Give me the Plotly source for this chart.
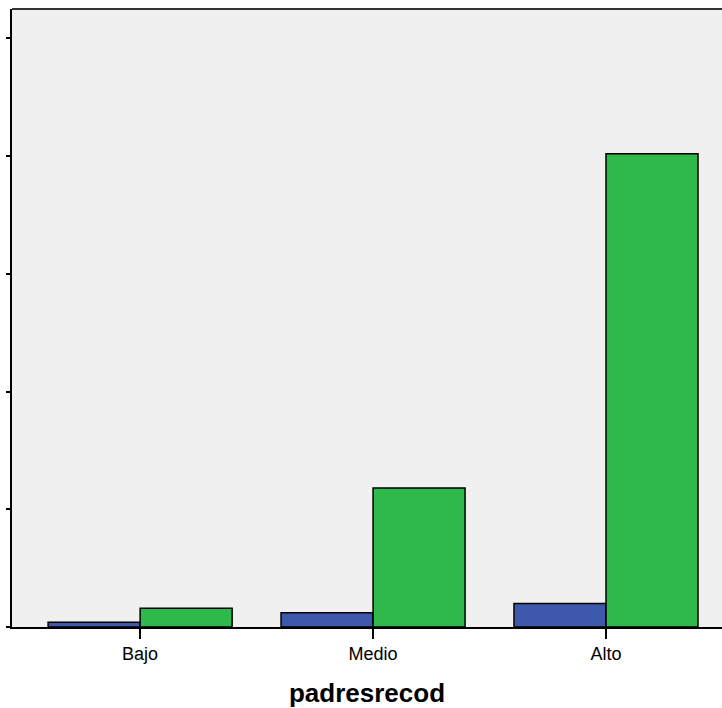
import plotly.graph_objects as go

categories = ["Bajo", "Medio", "Alto"]
series_blue = [4, 12, 20]
series_green = [16, 118, 402]

fig = go.Figure()
fig.add_trace(go.Bar(x=categories, y=series_blue, name="A",
                     marker=dict(color="#3E58AC", line=dict(color="black", width=1.5))))
fig.add_trace(go.Bar(x=categories, y=series_green, name="B",
                     marker=dict(color="#2FB94A", line=dict(color="black", width=1.5))))

fig.update_layout(
    width=722, height=708,
    margin=dict(l=12, r=0, t=9, b=81, autoexpand=False),
    paper_bgcolor="white", plot_bgcolor="#F0F0F0",
    barmode="group", bargap=0.21, bargroupgap=0,
    showlegend=False,
    font=dict(family="Liberation Sans, Arial", color="black"),
    shapes=[dict(type="line", xref="paper", yref="paper", x0=0, x1=1, y0=1, y1=1,
                 line=dict(color="#333333", width=2))],
)
fig.update_xaxes(
    range=[-0.55, 2.498],
    showline=True, linecolor="black", linewidth=1.5,
    ticks="outside", ticklen=10, tickwidth=2, tickcolor="black",
    tickfont=dict(size=18),
    title=dict(text="<b>padresrecod</b>", font=dict(size=26), standoff=20),
    showgrid=False, automargin=False,
)
fig.update_yaxes(
    range=[0, 525], dtick=100,
    showline=True, linecolor="black", linewidth=2,
    ticks="outside", ticklen=4, tickwidth=2, tickcolor="black",
    showticklabels=False, showgrid=False, zeroline=False, automargin=False,
)
fig.write_html("out.html", config={"displayModeBar": False},
               post_script="document.body.style.margin='0';document.body.style.overflow='hidden';")
